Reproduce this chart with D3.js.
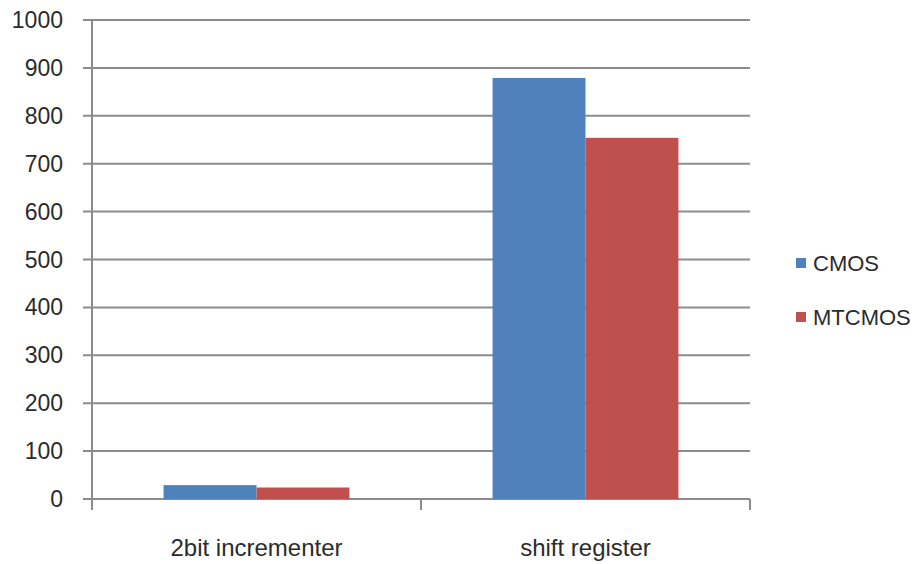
<!DOCTYPE html>
<html>
<head>
<meta charset="utf-8">
<script src="https://d3js.org/d3.v7.min.js"></script>
<style>
  body { margin: 0; background: #fff; }
  text { font-family: "Liberation Sans", Arial, sans-serif; fill: #2b2b2b; }
</style>
</head>
<body>
<div id="vis"></div>
<script>
  // data
  const categories = ['2bit incrementer', 'shift register']
  const seriesNames = ['CMOS', 'MTCMOS']
  const cmosValues = [29, 879]
  const mtcmosValues = [24, 754]
  const yTicks = [0, 100, 200, 300, 400, 500, 600, 700, 800, 900, 1000]
  const seriesColors = ['#4f81bd', '#c0504d']

  var width = 917, height = 564
  var svg = d3.select('#vis')
    .append('svg')
    .attr('width', width)
    .attr('height', height)

  var plotLeft = 92, plotRight = 750, plotTop = 20, plotBottom = 499

  var y = d3.scaleLinear().domain([0, 1000]).range([plotBottom, plotTop])
  var x0 = d3.scaleBand().domain(categories).range([plotLeft, plotRight]).padding(0)
  var x1 = d3.scaleBand().domain(seriesNames).range([0, x0.bandwidth()])
    .paddingInner(0).paddingOuter(0.77)

  var gridColor = '#8c8c8c'

  // horizontal gridlines + left ticks
  svg.append('g')
    .selectAll('line')
    .data(yTicks)
    .join('line')
    .attr('x1', plotLeft - 9)
    .attr('x2', plotRight)
    .attr('y1', d => y(d))
    .attr('y2', d => y(d))
    .attr('stroke', gridColor)
    .attr('stroke-width', 2)

  // y axis line
  svg.append('line')
    .attr('x1', plotLeft).attr('x2', plotLeft)
    .attr('y1', plotTop).attr('y2', plotBottom + 11)
    .attr('stroke', gridColor)
    .attr('stroke-width', 2)

  // category tick marks
  var catEdges = [plotLeft].concat(categories.map(c => x0(c) + x0.bandwidth()))
  svg.append('g')
    .selectAll('line')
    .data(catEdges)
    .join('line')
    .attr('x1', d => d).attr('x2', d => d)
    .attr('y1', plotBottom).attr('y2', plotBottom + 11)
    .attr('stroke', gridColor)
    .attr('stroke-width', 2)

  // y labels
  svg.append('g')
    .selectAll('text')
    .data(yTicks)
    .join('text')
    .attr('x', 63)
    .attr('y', d => y(d))
    .attr('dy', '0.35em')
    .attr('text-anchor', 'end')
    .style('font-size', '23px')
    .text(d => d)

  // bars
  var rows = categories.map(function(c, i) {
    return {cat: c, vals: [cmosValues[i], mtcmosValues[i]]}
  })
  svg.append('g')
    .selectAll('g')
    .data(rows)
    .join('g')
    .attr('transform', d => 'translate(' + x0(d.cat) + ',0)')
    .selectAll('rect')
    .data(d => d.vals.map((v, j) => ({name: seriesNames[j], value: v, j: j})))
    .join('rect')
    .attr('x', d => x1(d.name))
    .attr('width', x1.bandwidth())
    .attr('y', d => y(d.value))
    .attr('height', d => plotBottom - y(d.value))
    .attr('fill', d => seriesColors[d.j])

  // category labels
  svg.append('g')
    .selectAll('text')
    .data(categories)
    .join('text')
    .attr('x', d => x0(d) + x0.bandwidth() / 2)
    .attr('y', 548)
    .attr('dy', '0.35em')
    .attr('text-anchor', 'middle')
    .style('font-size', '24px')
    .text(d => d)

  // legend
  var legend = svg.append('g')
    .selectAll('g')
    .data(seriesNames)
    .join('g')
    .attr('transform', (d, i) => 'translate(796,' + (263 + i * 54) + ')')
  legend.append('rect')
    .attr('x', 0).attr('y', -5)
    .attr('width', 10).attr('height', 10)
    .attr('fill', (d, i) => seriesColors[i])
  legend.append('text')
    .attr('x', 17)
    .attr('dy', '0.35em')
    .style('font-size', '22px')
    .text(d => d)
</script>
</body>
</html>
